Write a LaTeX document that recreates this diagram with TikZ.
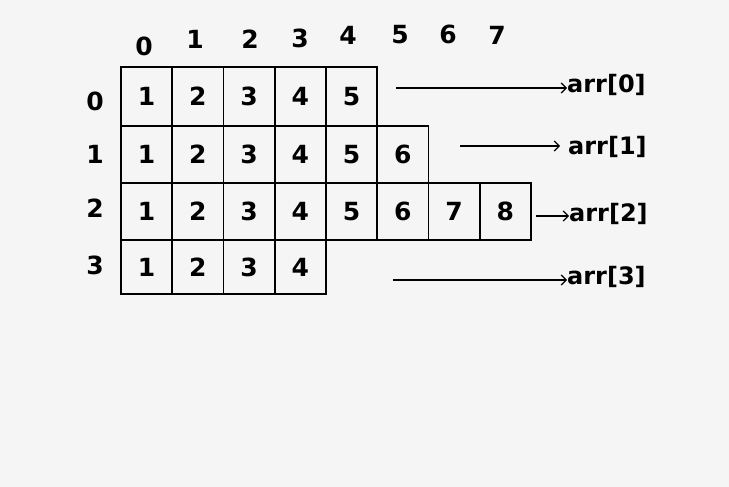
\documentclass[tikz,border=0pt]{standalone}
\usepackage{fontspec}
\setmainfont{DejaVu Sans}
\usetikzlibrary{arrows.meta,calc,positioning}
\definecolor{paper}{RGB}{245,245,245}
\tikzstyle{cell} =[rectangle, draw, line width =1.8pt, minimum width =51.25pt, outer sep =0pt, inner sep =0pt, font =\bfseries\fontsize{25}{25}\selectfont]
\tikzstyle{cella} =[cell, minimum height =59pt]
\tikzstyle{cellb} =[cell, minimum height =57pt]
\tikzstyle{cellc} =[cell, minimum height =57pt]
\tikzstyle{celld} =[cell, minimum height =54pt]
\tikzstyle{idx} =[inner sep =0pt, font =\bfseries\fontsize{25}{25}\selectfont]
\tikzstyle{pointer} =[anchor =west, inner sep =0pt, font =\bfseries\fontsize{24}{24}\selectfont]
\tikzstyle{line} =[draw, line width =1.2pt, -{Straight Barb[length =5pt, width =10pt]}]

\begin{document}
\begin{tikzpicture}[x =1pt, y =-1pt]
\fill [paper] (0,0) rectangle (729,487);
\useasboundingbox (0,0) rectangle (729,487);

% row 0
\node [cella] (a0) at (146.6,96.5) {1};
\node [cella, right = 0pt of a0] (a1) {2};
\node [cella, right = 0pt of a1] (a2) {3};
\node [cella, right = 0pt of a2] (a3) {4};
\node [cella, right = 0pt of a3] (a4) {5};
% row 1
\node [cellb, below = 0pt of a0] (b0) {1};
\node [cellb, right = 0pt of b0] (b1) {2};
\node [cellb, right = 0pt of b1] (b2) {3};
\node [cellb, right = 0pt of b2] (b3) {4};
\node [cellb, right = 0pt of b3] (b4) {5};
\node [cellb, right = 0pt of b4] (b5) {6};
% row 2
\node [cellc, below = 0pt of b0] (c0) {1};
\node [cellc, right = 0pt of c0] (c1) {2};
\node [cellc, right = 0pt of c1] (c2) {3};
\node [cellc, right = 0pt of c2] (c3) {4};
\node [cellc, right = 0pt of c3] (c4) {5};
\node [cellc, right = 0pt of c4] (c5) {6};
\node [cellc, right = 0pt of c5] (c6) {7};
\node [cellc, right = 0pt of c6] (c7) {8};
% row 3
\node [celld, below = 0pt of c0] (d0) {1};
\node [celld, right = 0pt of d0] (d1) {2};
\node [celld, right = 0pt of d1] (d2) {3};
\node [celld, right = 0pt of d2] (d3) {4};

% column and row indices
\node [idx] (col0) at (144,46) {0};
\node [idx] (col1) at (195,39) {1};
\node [idx] (col2) at (250,39) {2};
\node [idx] (col3) at (300,38) {3};
\node [idx] (col4) at (348,35) {4};
\node [idx] (col5) at (400,35) {5};
\node [idx] (col6) at (448,34) {6};
\node [idx] (col7) at (497,35) {7};
\node [idx] (row0) at (95,101) {0};
\node [idx] (row1) at (95,154) {1};
\node [idx] (row2) at (95,208) {2};
\node [idx] (row3) at (95,265) {3};

% row pointers
\node [pointer] (arr0) at (567,85) {arr[0]};
\node [pointer] (arr1) at (568,147) {arr[1]};
\node [pointer] (arr2) at (569,214) {arr[2]};
\node [pointer] (arr3) at (567,277) {arr[3]};
\coordinate (s0) at (396,88);
\coordinate (s1) at (460,146);
\coordinate (s2) at (536,216);
\coordinate (s3) at (393,280);
\path [line] (s0) -- (s0 -| arr0.west);
\path [line] (s1) -- ($(s1 -| arr1.west) - (8,0)$);
\path [line] (s2) -- (s2 -| arr2.west);
\path [line] (s3) -- (s3 -| arr3.west);
\end{tikzpicture}
\end{document}
